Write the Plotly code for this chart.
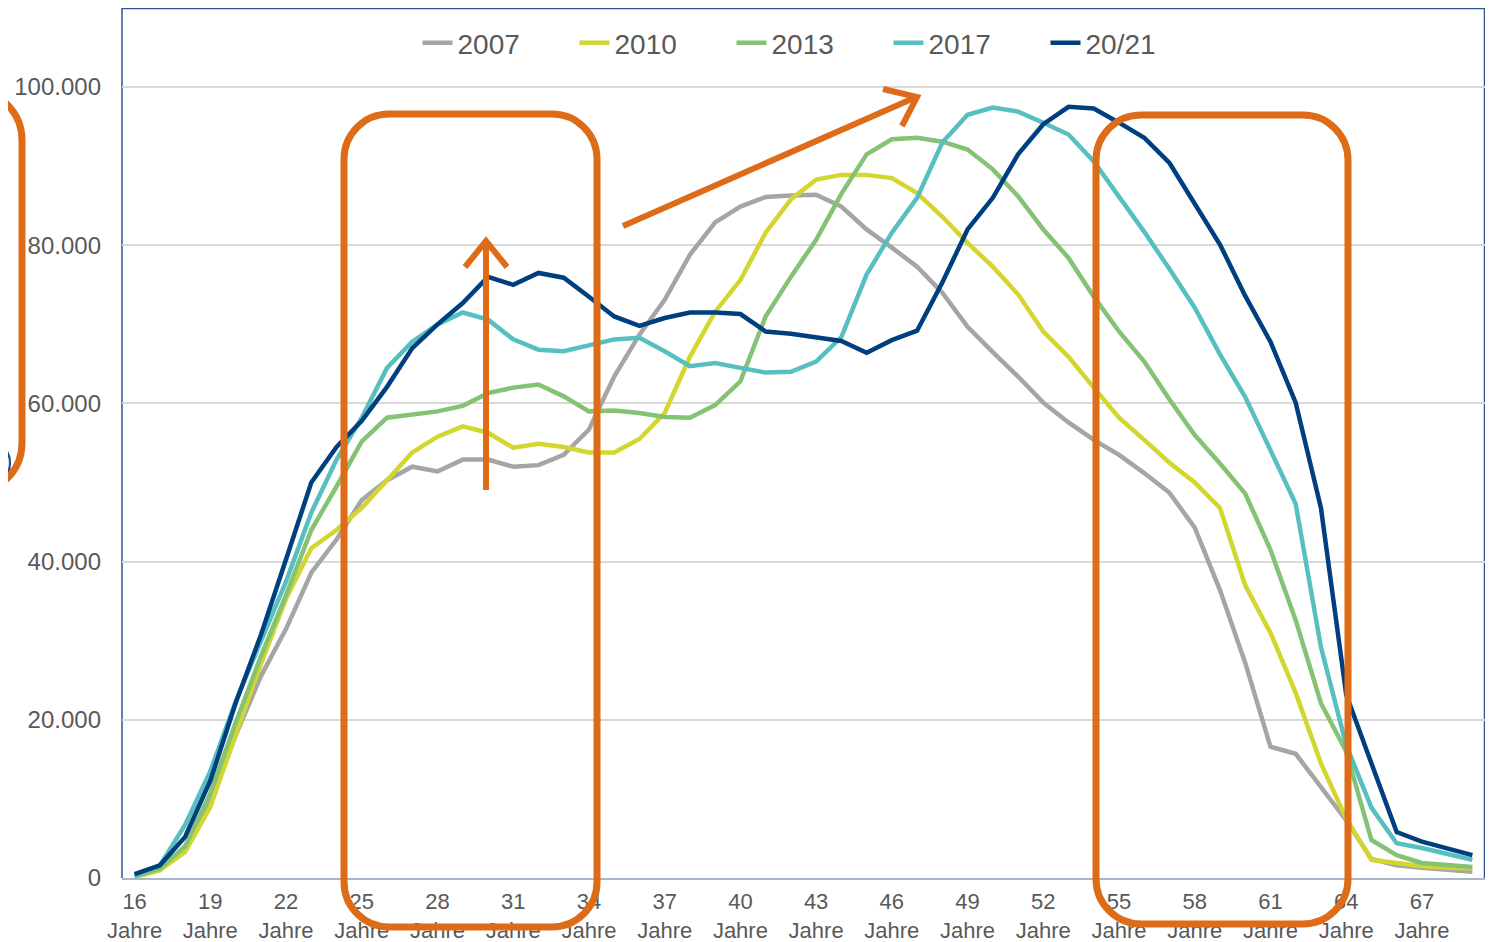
import plotly.graph_objects as go

# ---------------- data ----------------
ages = list(range(16, 70))

y2007 = [200, 1000, 4000, 9500, 18000, 25500, 31500, 38600, 42800, 47800,
         50300, 52000, 51400, 52900, 52900, 52000, 52200, 53500, 56700, 63400,
         68700, 73100, 78800, 82900, 84900, 86100, 86300, 86400, 84900, 82000,
         79700, 77300, 74000, 69700, 66500, 63400, 60100, 57600, 55400, 53500,
         51200, 48700, 44300, 36400, 27200, 16600, 15700, 11400, 7300, 2400,
         1600, 1300, 1100, 800]

y2010 = [100, 1000, 3300, 9000, 18100, 27000, 35300, 41700, 44000, 46800,
         50300, 53800, 55800, 57100, 56300, 54400, 54900, 54500, 53800, 53800,
         55500, 58800, 65900, 71600, 75600, 81600, 85800, 88300, 88900, 88900,
         88500, 86600, 83600, 80300, 77300, 73800, 69100, 65900, 62000, 58200,
         55400, 52500, 50000, 46800, 37000, 31000, 23400, 14500, 7500, 2300,
         1900, 1500, 1300, 1200]

y2013 = [200, 1200, 4000, 10700, 19600, 28000, 35800, 44000, 49500, 55200,
         58200, 58600, 59000, 59700, 61300, 62000, 62400, 60900, 59000, 59100,
         58800, 58300, 58200, 59800, 62800, 71000, 76000, 80700, 86500, 91500,
         93400, 93600, 93100, 92100, 89600, 86200, 82000, 78400, 73500, 69100,
         65300, 60500, 56000, 52400, 48600, 41500, 32600, 22100, 16000, 4800,
         2900, 1900, 1600, 1400]

y2017 = [300, 1600, 6700, 13500, 22300, 30000, 37500, 46200, 52900, 58200,
         64500, 67800, 70000, 71500, 70600, 68100, 66800, 66600, 67400, 68100,
         68300, 66600, 64700, 65100, 64500, 63900, 64000, 65300, 68400, 76300,
         81600, 86000, 93000, 96500, 97400, 96900, 95500, 94000, 90600, 86200,
         81700, 77000, 72100, 66200, 60800, 54100, 47300, 29200, 16800, 8900,
         4400, 3800, 3000, 2300]

y2021 = [500, 1600, 5200, 12300, 22100, 30700, 40300, 50000, 54500, 57800,
         62100, 67000, 70000, 72700, 76000, 75000, 76500, 75900, 73500, 71000,
         69800, 70800, 71500, 71500, 71300, 69100, 68800, 68400, 67900, 66400,
         68000, 69200, 75300, 82000, 86000, 91500, 95300, 97500, 97300, 95500,
         93600, 90400, 85300, 80100, 73600, 67800, 60100, 46800, 23200, 14500,
         5800, 4600, 3800, 2900]

series_names = ["2007", "2010", "2013", "2017", "20/21"]
series_values = [y2007, y2010, y2013, y2017, y2021]
series_colors = ["#a5a5a5", "#d3d62e", "#84c274", "#57bfc0", "#003f7f"]

tick_ages = list(range(16, 68, 3))
tick_labels = [f"{a}<br>Jahre" for a in tick_ages]
y_ticks = [0, 20000, 40000, 60000, 80000, 100000]
y_tick_labels = ["0", "20.000", "40.000", "60.000", "80.000", "100.000"]

# ---------------- geometry (page pixels) ----------------
# the page body has an 8px margin, so the figure is shifted by (8, 8)
OFF = 8
PAGE_W, PAGE_H = 1493, 942
PLOT_L, PLOT_R, PLOT_T, PLOT_B = 122, 1485, 8, 878
W, H = PAGE_W - OFF, PAGE_H - OFF
ML = PLOT_L - OFF
MR = PAGE_W - PLOT_R
MT = PLOT_T - OFF
MB = PAGE_H - PLOT_B
PW, PH = PLOT_R - PLOT_L, PLOT_B - PLOT_T


def px(x):
    return (x - PLOT_L) / PW


def py(y):
    return (PLOT_B - y) / PH


def P(x, y):
    return f"{px(x):.5f},{py(y):.5f}"


K = 0.5523


def rounded_rect(x0, y0, x1, y1, r):
    k = r * (1 - K)
    return (f"M {P(x0 + r, y0)} L {P(x1 - r, y0)} "
            f"C {P(x1 - k, y0)} {P(x1, y0 + k)} {P(x1, y0 + r)} "
            f"L {P(x1, y1 - r)} "
            f"C {P(x1, y1 - k)} {P(x1 - k, y1)} {P(x1 - r, y1)} "
            f"L {P(x0 + r, y1)} "
            f"C {P(x0 + k, y1)} {P(x0, y1 - k)} {P(x0, y1 - r)} "
            f"L {P(x0, y0 + r)} "
            f"C {P(x0, y0 + k)} {P(x0 + k, y0)} {P(x0 + r, y0)} Z")


def circle(cx, cy, r):
    k = r * K
    return (f"M {P(cx + r, cy)} "
            f"C {P(cx + r, cy + k)} {P(cx + k, cy + r)} {P(cx, cy + r)} "
            f"C {P(cx - k, cy + r)} {P(cx - r, cy + k)} {P(cx - r, cy)} "
            f"C {P(cx - r, cy - k)} {P(cx - k, cy - r)} {P(cx, cy - r)} "
            f"C {P(cx + k, cy - r)} {P(cx + r, cy - k)} {P(cx + r, cy)} Z")


fig = go.Figure()
for name, vals, col in zip(series_names, series_values, series_colors):
    fig.add_trace(go.Scatter(x=ages, y=vals, name=name, mode="lines",
                             line=dict(color=col, width=4.5)))

ORANGE = "#dd6b17"
NAVY = "#2f5597"
shapes = []
shapes.append(dict(type="path", xref="paper", yref="paper",
                   path=f"M {P(122, 878)} L {P(122, 8.5)} L {P(1484.5, 8.5)} L {P(1484.5, 878)}",
                   line=dict(color=NAVY, width=1.5), layer="below"))
shapes.append(dict(type="path", xref="paper", yref="paper",
                   path=circle(-14, 463, 24), line=dict(color="#1f4e8c", width=2.2)))
for (x0, y0, x1, y1, r) in [(-60, 90, 22, 493, 50),
                            (344, 114, 597, 927, 45),
                            (1096, 115, 1348, 924, 45)]:
    shapes.append(dict(type="path", xref="paper", yref="paper",
                       path=rounded_rect(x0, y0, x1, y1, r),
                       line=dict(color=ORANGE, width=7)))
shapes.append(dict(type="path", xref="paper", yref="paper",
                   path=f"M {P(486, 490)} L {P(486, 241)}",
                   line=dict(color=ORANGE, width=6)))
shapes.append(dict(type="path", xref="paper", yref="paper",
                   path=f"M {P(465, 267)} L {P(486, 241)} L {P(507, 267)}",
                   line=dict(color=ORANGE, width=6)))
shapes.append(dict(type="path", xref="paper", yref="paper",
                   path=f"M {P(623, 226)} L {P(914, 98)}",
                   line=dict(color=ORANGE, width=6)))
shapes.append(dict(type="path", xref="paper", yref="paper",
                   path=f"M {P(883, 89)} L {P(917, 97)} L {P(902, 126)}",
                   line=dict(color=ORANGE, width=6)))

FONT = "Liberation Sans, Arial, sans-serif"
TXT = "#595959"

fig.update_layout(
    width=W, height=H,
    margin=dict(l=ML, r=MR, t=MT, b=MB, pad=0, autoexpand=False),
    paper_bgcolor="white", plot_bgcolor="white",
    font=dict(family=FONT, color=TXT),
    shapes=shapes,
    showlegend=True,
    legend=dict(orientation="h", x=px(810), xanchor="center", y=py(43), yanchor="middle",
                font=dict(size=28, color=TXT, family=FONT),
                bgcolor="rgba(0,0,0,0)", entrywidth=112, entrywidthmode="pixels",
                traceorder="normal"),
    xaxis=dict(range=[15.5, 69.5], tickmode="array", tickvals=tick_ages,
               ticktext=tick_labels, showgrid=False, zeroline=False,
               showline=True, linecolor="#a9b7c9", linewidth=1.5,
               ticks="", tickfont=dict(size=22, color=TXT, family=FONT),
               ticklabelstandoff=3, automargin=False, fixedrange=True),
    yaxis=dict(range=[0, 110000], tickmode="array", tickvals=y_ticks,
               ticktext=y_tick_labels, showgrid=True, gridcolor="#d9d9d9",
               gridwidth=2, zeroline=False, showline=False, ticks="",
               tickfont=dict(size=24, color=TXT, family=FONT),
               ticklabelstandoff=20, automargin=False, fixedrange=True),
)

fig.write_html("out.html")
